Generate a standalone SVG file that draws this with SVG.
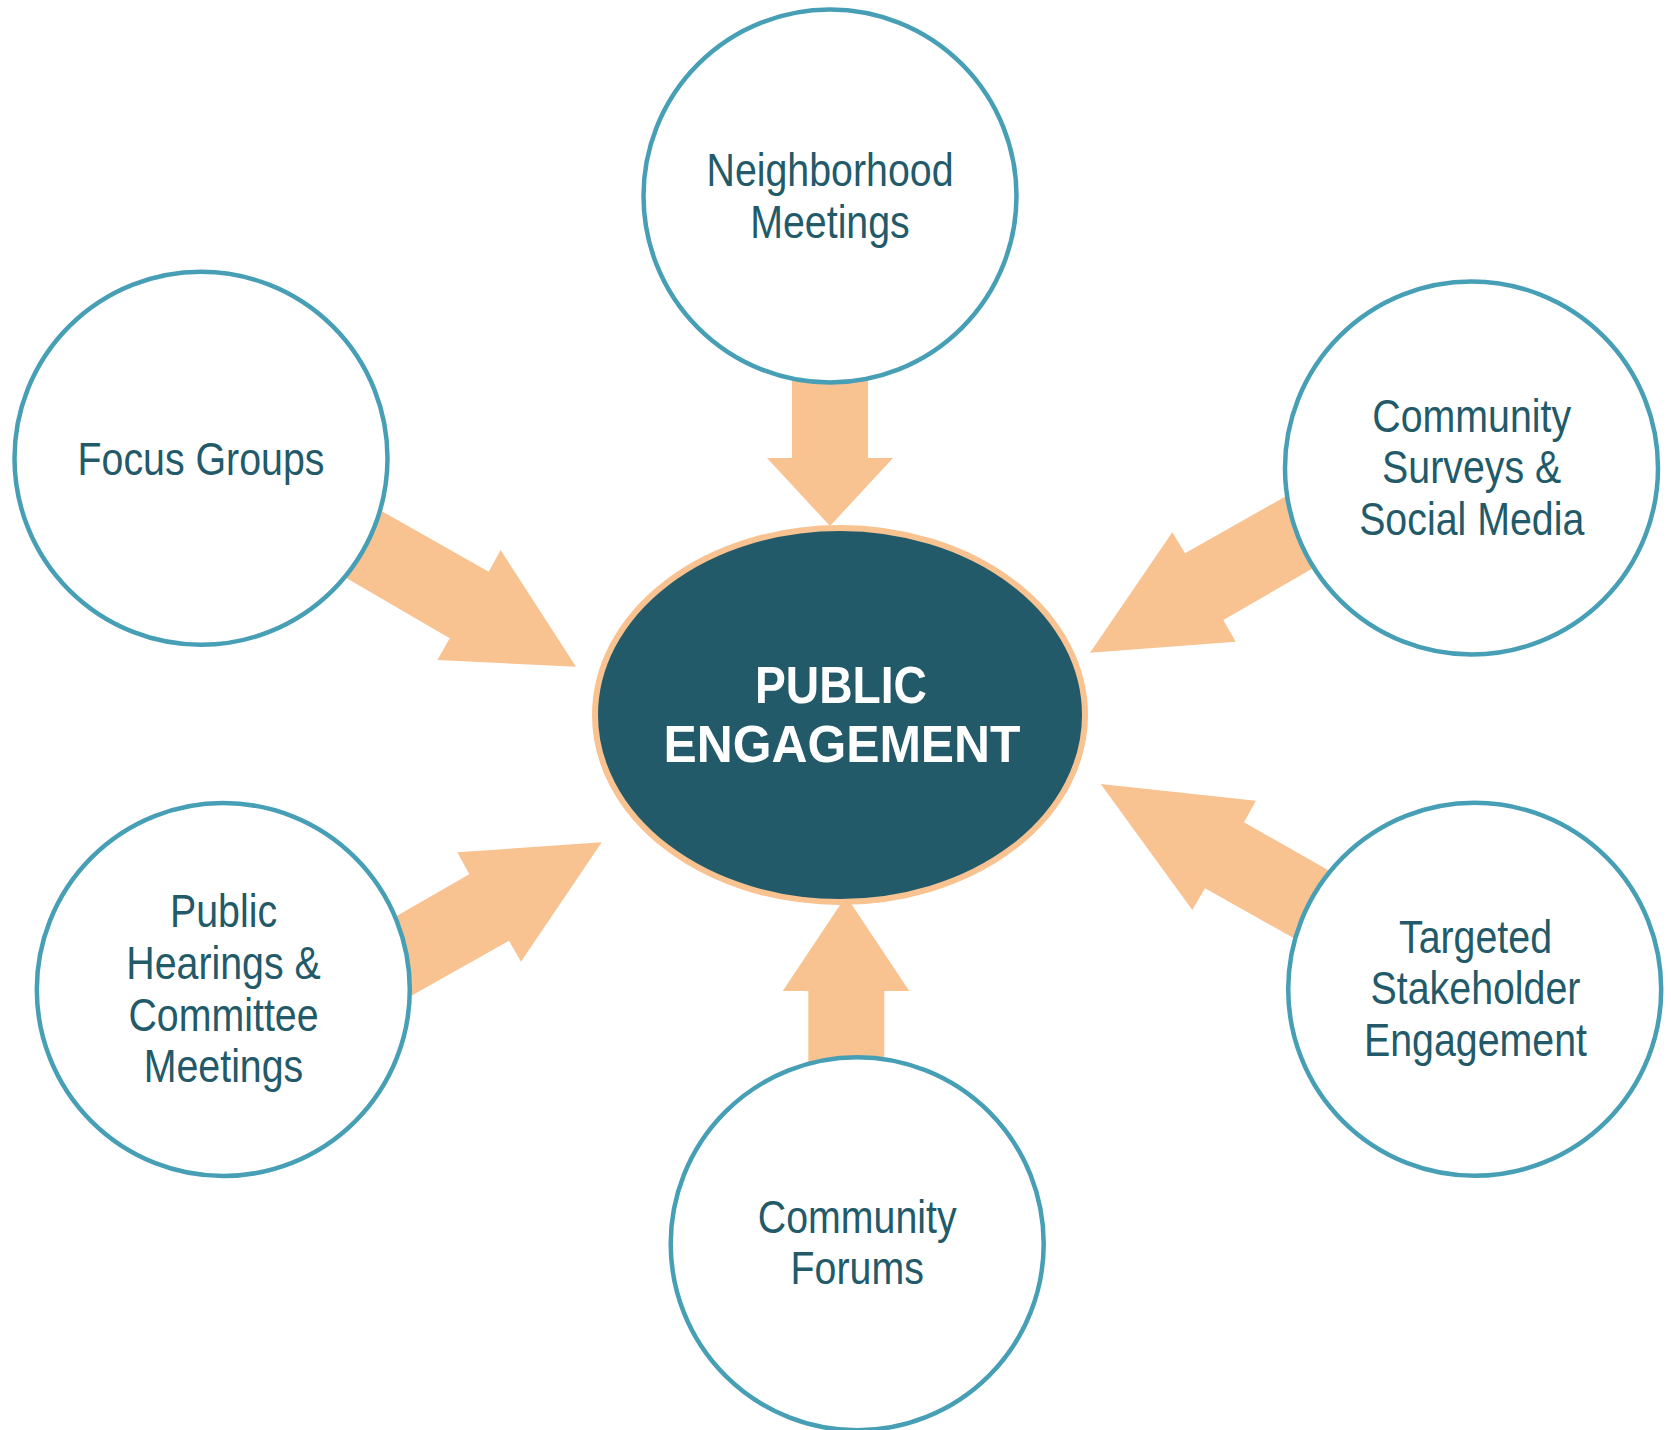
<svg xmlns="http://www.w3.org/2000/svg" width="1671" height="1430" viewBox="0 0 1671 1430">
  <style>
    .arrow { fill: #f9c291; }
    .node circle { fill: #ffffff; stroke: #479fb6; stroke-width: 4.5; }
    .label { font-family: "Liberation Sans", Arial, sans-serif; font-size: 46px; fill: #235a69; text-anchor: middle; }
    .hub-label { font-family: "Liberation Sans", Arial, sans-serif; font-weight: bold; font-size: 52px; fill: #ffffff; text-anchor: middle; }
  </style>
  <rect width="1671" height="1430" fill="#ffffff"/>

  <!-- block arrows pointing into the hub; tails sit under the node circles -->
  <g id="connectors">
    <polygon class="arrow" points="792,330 868,330 868,458 893,458 830,526 767,458 792,458"/>
    <polygon class="arrow" points="322.7,477.7 488.7,571.7 500.6,550 576,666.7 437.4,660 449.7,638.3 288.3,544.3"/>
    <polygon class="arrow" points="1344,463.3 1185,553.3 1172.3,532.3 1090,652.7 1235.7,641.7 1223.3,620 1370,535.3"/>
    <polygon class="arrow" points="1100.7,784 1256,800.7 1244,822.3 1386.7,903.4 1351.7,970.7 1205,888.3 1192.3,910"/>
    <polygon class="arrow" points="338.3,949.4 469.3,874.3 457.3,852.3 601.7,842.3 521,961.7 509,940.7 353.3,1028.4"/>
    <polygon class="arrow" points="846,896 909.3,991 884.3,991 884.3,1110 808.3,1110 808.3,991 782.7,991"/>
  </g>

  <g id="hub">
    <ellipse cx="840" cy="715" rx="245" ry="187" fill="#235a69" stroke="#f9c291" stroke-width="6"/>
    <text class="hub-label" x="841" y="703" textLength="172" lengthAdjust="spacingAndGlyphs">PUBLIC</text>
    <text class="hub-label" x="842" y="762" textLength="357" lengthAdjust="spacingAndGlyphs">ENGAGEMENT</text>
  </g>

  <!-- labels are set in a condensed cut: regular sans squeezed horizontally -->
  <g id="neighborhood-meetings" class="node">
    <circle cx="830" cy="196" r="186.5"/>
    <g transform="translate(830 0) scale(0.855 1)">
      <text class="label" x="0" y="186">Neighborhood</text>
      <text class="label" x="0" y="237.6">Meetings</text>
    </g>
  </g>

  <g id="focus-groups" class="node">
    <circle cx="201" cy="458.3" r="186.5"/>
    <g transform="translate(201 0) scale(0.855 1)">
      <text class="label" x="0" y="475">Focus Groups</text>
    </g>
  </g>

  <g id="community-surveys" class="node">
    <circle cx="1471.5" cy="468" r="186.5"/>
    <g transform="translate(1471.7 0) scale(0.855 1)">
      <text class="label" x="0" y="431.7">Community</text>
      <text class="label" x="0" y="483.3">Surveys &amp;</text>
      <text class="label" x="0" y="535">Social Media</text>
    </g>
  </g>

  <g id="targeted-stakeholder" class="node">
    <circle cx="1474.7" cy="989.3" r="186.5"/>
    <g transform="translate(1475.5 0) scale(0.855 1)">
      <text class="label" x="0" y="953.5">Targeted</text>
      <text class="label" x="0" y="1004.5">Stakeholder</text>
      <text class="label" x="0" y="1056.5">Engagement</text>
    </g>
  </g>

  <g id="public-hearings" class="node">
    <circle cx="223.3" cy="989.5" r="186.5"/>
    <g transform="translate(223.5 0) scale(0.855 1)">
      <text class="label" x="0" y="926.7">Public</text>
      <text class="label" x="0" y="979.3">Hearings &amp;</text>
      <text class="label" x="0" y="1030.7">Committee</text>
      <text class="label" x="0" y="1082.3">Meetings</text>
    </g>
  </g>

  <g id="community-forums" class="node">
    <circle cx="857.2" cy="1243.8" r="186.5"/>
    <g transform="translate(857.2 0) scale(0.855 1)">
      <text class="label" x="0" y="1232.7">Community</text>
      <text class="label" x="0" y="1284.3">Forums</text>
    </g>
  </g>
</svg>
